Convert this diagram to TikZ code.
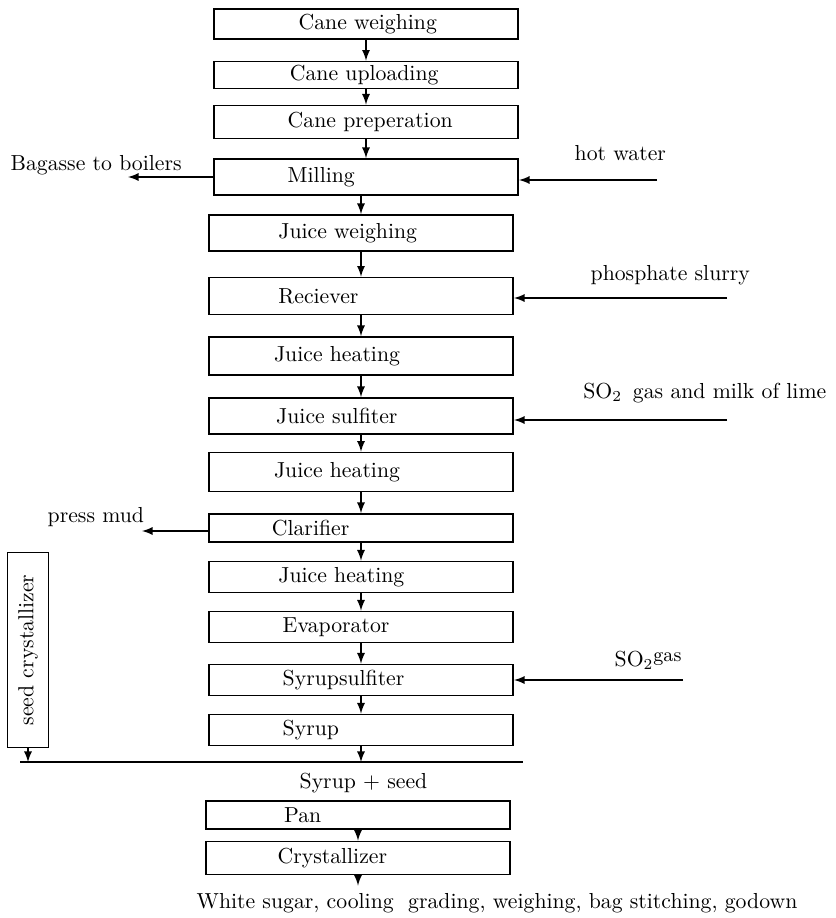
\documentclass[tikz,border=0pt]{standalone}
\usetikzlibrary{arrows}
\tikzset{stage/.style={draw, line width=0.8pt, text width=140pt, inner xsep=0pt, inner ysep=1pt, align=left, minimum height=14.3pt, execute at begin node={\hspace*{#1}}},
         stage/.default=33pt,
         flow/.style={line width=0.7pt,-latex}}

\begin{document}
\begin{tikzpicture}[x=0.46pt,y=-0.46pt]
   \useasboundingbox (0,0) rectangle (836,918);
   % main column
   \node[stage=39pt,minimum height=13.8pt] (cw)  at (366, 24) {Cane weighing};
   \node[stage=35pt,minimum height=12.4pt] (cu)  at (366, 75) {Cane uploading};
   \node[stage=34pt,minimum height=15.2pt] (cp)  at (366,122) {Cane preperation};
   \node[stage=34pt,minimum height=16.6pt] (mil) at (366,177) {Milling};
   \node[stage=32pt,minimum height=16.6pt] (jw)  at (361,233) {Juice weighing};
   \node[stage=32pt,minimum height=17pt]   (rec) at (361,296) {Reciever};
   \node[stage=30pt,minimum height=17.5pt] (jh1) at (361,356) {Juice heating};
   \node[stage=31pt,minimum height=16.6pt] (js)  at (361,416) {Juice sulfiter};
   \node[stage=30pt,minimum height=17.9pt] (jh2) at (361,472) {Juice heating};
   \node[stage=29pt,minimum height=12.9pt] (cla) at (361,528) {Clarifier};
   \node[stage=32pt]                       (jh3) at (361,577) {Juice heating};
   \node[stage=34pt]                       (eva) at (361,627) {Evaporator};
   \node[stage=34pt]                       (ss)  at (361,680) {Syrupsulfiter};
   \node[stage=34pt]                       (syr) at (361,730) {Syrup};
   \node[stage=36pt,minimum height=12.9pt] (pan) at (358,815) {Pan};
   \node[stage=33pt,minimum height=15.2pt] (cry) at (358,858) {Crystallizer};

   \draw[flow] (cw) -- (cu);
   \draw[flow] (cu) -- (cp);
   \draw[flow] (cp) -- (mil);
   \draw[flow] (mil.south -| jw.north) -- (jw.north);
   \draw[flow] (jw) -- (rec);
   \draw[flow] (rec) -- (jh1);
   \draw[flow] (jh1) -- (js);
   \draw[flow] (js) -- (jh2);
   \draw[flow] (jh2) -- (cla);
   \draw[flow] (cla) -- (jh3);
   \draw[flow] (jh3) -- (eva);
   \draw[flow] (eva) -- (ss);
   \draw[flow] (ss) -- (syr);
   \draw[flow] (pan) -- (cry);

   % inputs and outputs at the sides
   \node[anchor=west] (bagt) at (3,165)   {Bagasse to boilers};
   \node[anchor=west] (hwt)  at (567,153) {hot water};
   \node[anchor=west] (pst)  at (583,275) {phosphate slurry};
   \node[anchor=east] (smt)  at (834,393) {SO$_2$\ \,gas and milk of lime};
   \node[anchor=west] (pmt)  at (40,517)  {press mud};
   \node[anchor=west] (sgt)  at (607,660) {SO$_2$\raisebox{0.5ex}{\small gas}};

   \coordinate (bag) at (128,177);
   \coordinate (hw)  at (657,180);
   \coordinate (ps)  at (727,298);
   \coordinate (sm)  at (727,420);
   \coordinate (pm)  at (142,531);
   \coordinate (sg)  at (683,680);
   \draw[flow] (mil.west |- bag) -- (bag);
   \draw[flow] (hw) -- (mil.east |- hw);
   \draw[flow] (ps) -- (rec.east |- ps);
   \draw[flow] (sm) -- (js.east |- sm);
   \draw[flow] (cla.west |- pm) -- (pm);
   \draw[flow] (sg) -- (ss.east |- sg);

   % seed line
   \node[draw, line width=0.8pt, rotate=90, minimum width=89.7pt, minimum height=18.9pt, inner sep=1pt] (seed) at (28,650) {seed crystallizer};
   \coordinate (ml) at (20,762);
   \coordinate (mr) at (523,762);
   \draw[line width=0.8pt] (ml) -- (mr);
   \draw[flow] (syr) -- (syr |- mr);
   \draw[flow] (seed.west) -- (seed.west |- ml);
   \node[anchor=west] (sps) at (292,783) {Syrup + seed};

   % product
   \node (ws) at (497,903) {White sugar, cooling\ \ grading, weighing, bag stitching, godown};
   \draw[flow] (cry) -- (cry |- ws.north);
\end{tikzpicture}
\end{document}
